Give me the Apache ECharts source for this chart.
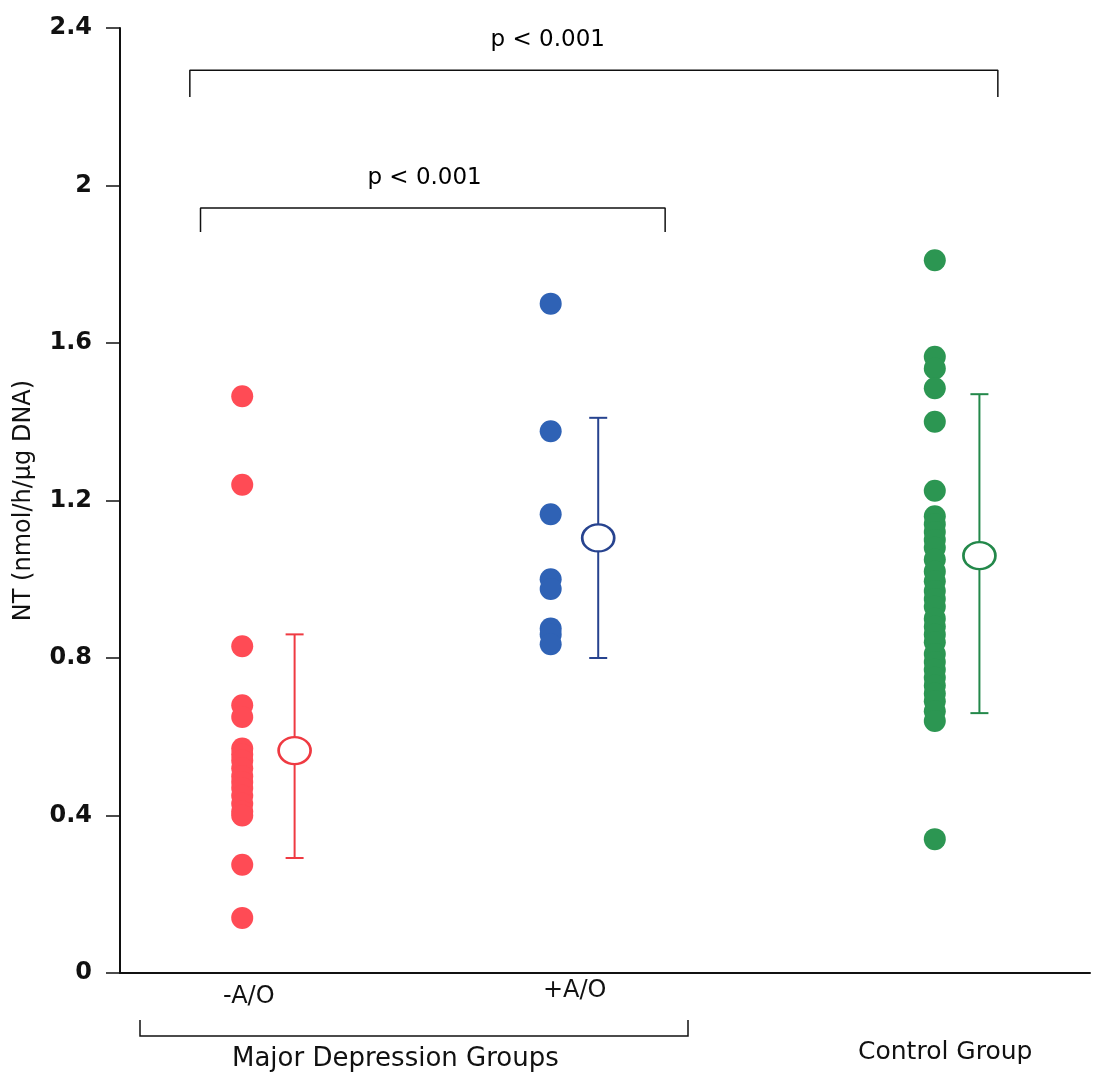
<!DOCTYPE html>
<html>
<head>
<meta charset="UTF-8">
<title>NT</title>
<script src="https://cdn.jsdelivr.net/npm/echarts@6/dist/echarts.min.js"></script>
<style>
  * { margin: 0; padding: 0; }
  body { background: #fff; }
  #main { width: 1097px; height: 1090px; }
</style>
</head>
<body>
<div id="main"></div>
<script>
// x positions (0-100 scale) of each group's dots and mean
var groupDotX = [12.6, 44.4, 84.0];
var groupMeanX = [18.0, 49.3, 88.6];
var groupColors = ['#ff4b55', '#2f62b5', '#2c9652'];
var barColors = ['#ef3a42', '#27438f', '#23884a'];

// individual values
var minusAO = [1.465, 1.24, 0.83, 0.68, 0.65, 0.57, 0.555, 0.54, 0.52, 0.50, 0.485, 0.47, 0.45, 0.43, 0.41, 0.40, 0.275, 0.14];
var plusAO = [1.70, 1.376, 1.165, 1.0, 0.975, 0.875, 0.86, 0.835];
var control = [1.81, 1.565, 1.535, 1.485, 1.40, 1.225, 1.16, 1.14, 1.12, 1.10, 1.08, 1.05, 1.02, 0.995, 0.97, 0.95, 0.93, 0.90,
  0.88, 0.86, 0.84, 0.81, 0.79, 0.77, 0.75, 0.73, 0.71, 0.69, 0.665, 0.64, 0.34];

// mean, low, high
var means = [0.565, 1.105, 1.06];
var lows = [0.292, 0.80, 0.66];
var highs = [0.86, 1.41, 1.47];

var yTicks = { min: 0, max: 2.4, interval: 0.4 };

var pTexts = ['p < 0.001', 'p < 0.001'];
// bracket: [xLeft, xRight, yLine, yEnd]
var brackets = [[7.2, 90.5, 2.293, 2.225], [8.3, 56.2, 1.943, 1.882]];
var pTextPos = [[44.1, 2.37], [31.4, 2.02]];

var FONT = 'DejaVu Sans, Liberation Sans, Arial, sans-serif';

var chart = echarts.init(document.getElementById('main'));

function dots(vals, i) {
  return vals.map(function (v) { return [groupDotX[i], v]; });
}

var series = [];
[minusAO, plusAO, control].forEach(function (vals, i) {
  series.push({
    type: 'scatter',
    data: dots(vals, i),
    symbolSize: 22,
    itemStyle: { color: groupColors[i], opacity: 1 },
    z: 3
  });
});

// error bars
series.push({
  type: 'custom',
  data: means.map(function (m, i) { return [groupMeanX[i], lows[i], highs[i], i]; }),
  encode: { x: 0, y: [1, 2] },
  renderItem: function (params, api) {
    var x = api.value(0);
    var lo = api.coord([x, api.value(1)]);
    var hi = api.coord([x, api.value(2)]);
    var c = barColors[api.value(3)];
    var cap = 9;
    var st = { stroke: c, lineWidth: 2 };
    return {
      type: 'group',
      children: [
        { type: 'line', shape: { x1: lo[0], y1: lo[1], x2: hi[0], y2: hi[1] }, style: st },
        { type: 'line', shape: { x1: lo[0] - cap, y1: lo[1], x2: lo[0] + cap, y2: lo[1] }, style: st },
        { type: 'line', shape: { x1: hi[0] - cap, y1: hi[1], x2: hi[0] + cap, y2: hi[1] }, style: st }
      ]
    };
  },
  z: 2
});

// mean circles
means.forEach(function (m, i) {
  series.push({
    type: 'scatter',
    data: [[groupMeanX[i], m]],
    symbol: 'circle',
    symbolSize: [32, 27],
    itemStyle: { color: '#fff', borderColor: barColors[i], borderWidth: 2.5, opacity: 1 },
    z: 4
  });
});

// significance brackets
brackets.forEach(function (b) {
  series.push({
    type: 'line',
    data: [[b[0], b[3]], [b[0], b[2]], [b[1], b[2]], [b[1], b[3]]],
    symbol: 'none',
    silent: true,
    lineStyle: { color: '#111', width: 1.5 },
    z: 1
  });
});
series.push({
  type: 'scatter',
  data: pTextPos.map(function (p, i) { return { value: p, name: pTexts[i] }; }),
  symbolSize: 0,
  silent: true,
  itemStyle: { opacity: 1 },
  label: {
    show: true,
    position: 'inside',
    formatter: '{b}',
    color: '#000',
    fontSize: 23,
    fontFamily: FONT
  }
});

var option = {
  backgroundColor: '#fff',
  animation: false,
  grid: { left: 120, right: 7, top: 28, bottom: 117, containLabel: false },
  xAxis: {
    type: 'value',
    min: 0,
    max: 100,
    axisLine: { show: true, lineStyle: { color: '#111', width: 2 } },
    axisTick: { show: false },
    axisLabel: { show: false },
    splitLine: { show: false }
  },
  yAxis: {
    type: 'value',
    min: yTicks.min,
    max: yTicks.max,
    interval: yTicks.interval,
    name: 'NT (nmol/h/\u03bcg DNA)',
    nameLocation: 'middle',
    nameGap: 84,
    nameTextStyle: { color: '#111', fontSize: 24, fontFamily: FONT },
    axisLine: { show: true, lineStyle: { color: '#111', width: 2 } },
    axisTick: { show: true, inside: false, length: 14, lineStyle: { color: '#111', width: 1.5 } },
    axisLabel: { color: '#111', fontSize: 24, fontWeight: 'bold', margin: 28, fontFamily: FONT },
    splitLine: { show: false }
  },
  graphic: [
    { type: 'text', left: 223, top: 985, style: { text: '-A/O', fontSize: 24, fill: '#111', fontFamily: FONT } },
    { type: 'text', left: 543, top: 979, style: { text: '+A/O', fontSize: 24, fill: '#111', fontFamily: FONT } },
    { type: 'polyline', shape: { points: [[140, 1020], [140, 1036], [688, 1036], [688, 1020]] }, style: { stroke: '#111', lineWidth: 1.5, fill: null } },
    { type: 'text', left: 232, top: 1046, style: { text: 'Major Depression Groups', fontSize: 26, fill: '#111', fontFamily: FONT } },
    { type: 'text', left: 858, top: 1040, style: { text: 'Control Group', fontSize: 25, fill: '#111', fontFamily: FONT } }
  ],
  series: series
};
chart.setOption(option);
</script>
</body>
</html>
